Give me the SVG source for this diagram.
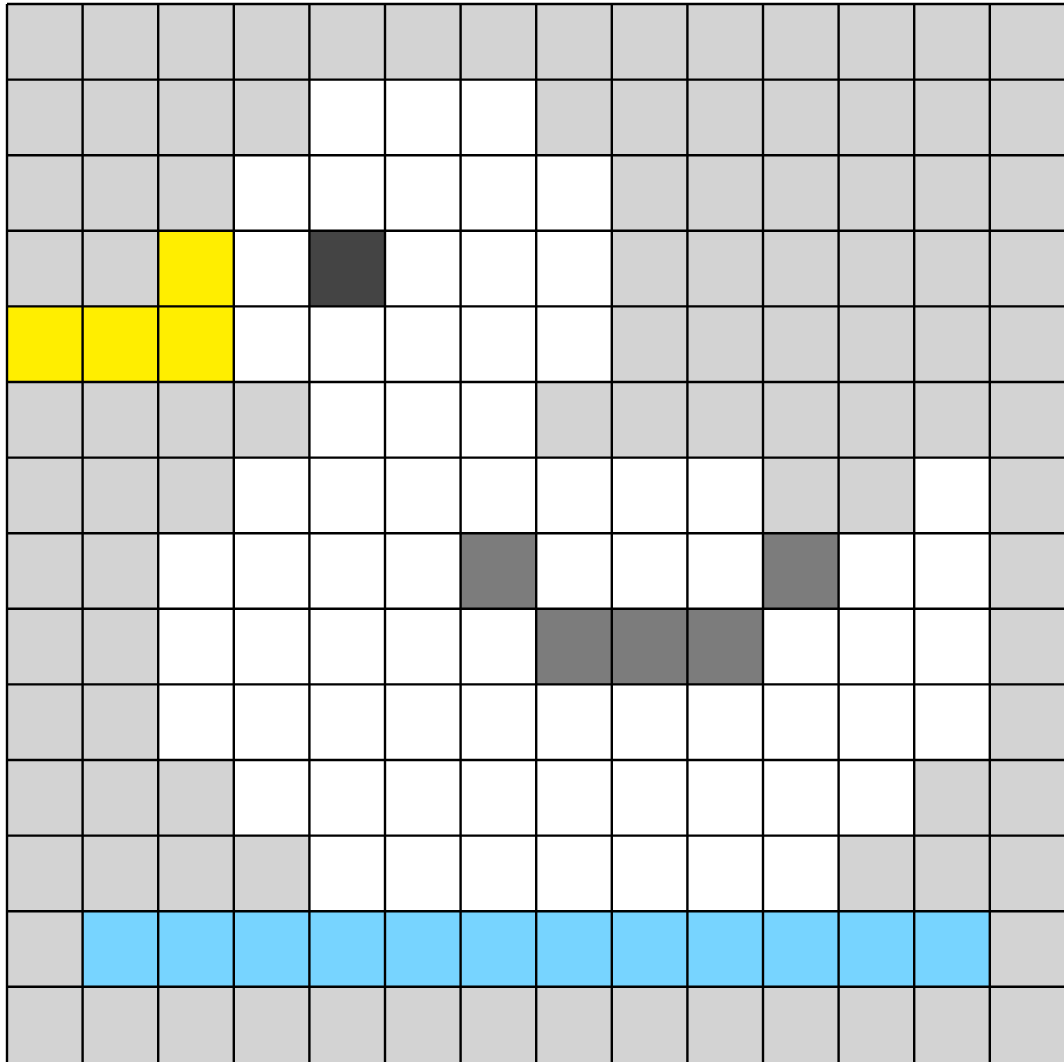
<svg xmlns="http://www.w3.org/2000/svg" width="1064" height="1062" viewBox="0 0 1064 1062">
<style>
.g{fill:#d3d3d3}.w{fill:#ffffff}.y{fill:#ffee00}.d{fill:#444444}.m{fill:#7c7c7c}.b{fill:#77d4ff}
.ln{stroke:#000;stroke-width:2.4;fill:none}
</style>
<rect x="0" y="0" width="1064" height="1062" fill="#ffffff"/>
<g id="cells">
<rect class="g" x="7" y="4" width="1058.4" height="1058.4"/>
<rect class="w" x="309.4" y="79.6" width="226.8" height="75.6"/>
<rect class="w" x="233.8" y="155.2" width="378" height="75.6"/>
<rect class="y" x="158.2" y="230.8" width="75.6" height="75.6"/>
<rect class="w" x="233.8" y="230.8" width="75.6" height="75.6"/>
<rect class="d" x="309.4" y="230.8" width="75.6" height="75.6"/>
<rect class="w" x="385" y="230.8" width="226.8" height="75.6"/>
<rect class="y" x="7" y="306.4" width="226.8" height="75.6"/>
<rect class="w" x="233.8" y="306.4" width="378" height="75.6"/>
<rect class="w" x="309.4" y="382" width="226.8" height="75.6"/>
<rect class="w" x="233.8" y="457.6" width="529.2" height="75.6"/>
<rect class="w" x="914.2" y="457.6" width="75.6" height="75.6"/>
<rect class="w" x="158.2" y="533.2" width="831.6" height="75.6"/>
<rect class="m" x="460.6" y="533.2" width="75.6" height="75.6"/>
<rect class="m" x="763" y="533.2" width="75.6" height="75.6"/>
<rect class="w" x="158.2" y="608.8" width="831.6" height="75.6"/>
<rect class="m" x="536.2" y="608.8" width="226.8" height="75.6"/>
<rect class="w" x="158.2" y="684.4" width="831.6" height="75.6"/>
<rect class="w" x="233.8" y="760" width="680.4" height="75.6"/>
<rect class="w" x="309.4" y="835.6" width="529.2" height="75.6"/>
<rect class="b" x="82.6" y="911.2" width="907.2" height="75.6"/>
</g>
<g id="gridlines">
<path class="ln" d="M7 4V1062.4M82.6 4V1062.4M158.2 4V1062.4M233.8 4V1062.4M309.4 4V1062.4M385 4V1062.4M460.6 4V1062.4M536.2 4V1062.4M611.8 4V1062.4M687.4 4V1062.4M763 4V1062.4M838.6 4V1062.4M914.2 4V1062.4M989.8 4V1062.4
M7 4H1065.4M7 79.6H1065.4M7 155.2H1065.4M7 230.8H1065.4M7 306.4H1065.4M7 382H1065.4M7 457.6H1065.4M7 533.2H1065.4M7 608.8H1065.4M7 684.4H1065.4M7 760H1065.4M7 835.6H1065.4M7 911.2H1065.4M7 986.8H1065.4"/>
</g>
</svg>
